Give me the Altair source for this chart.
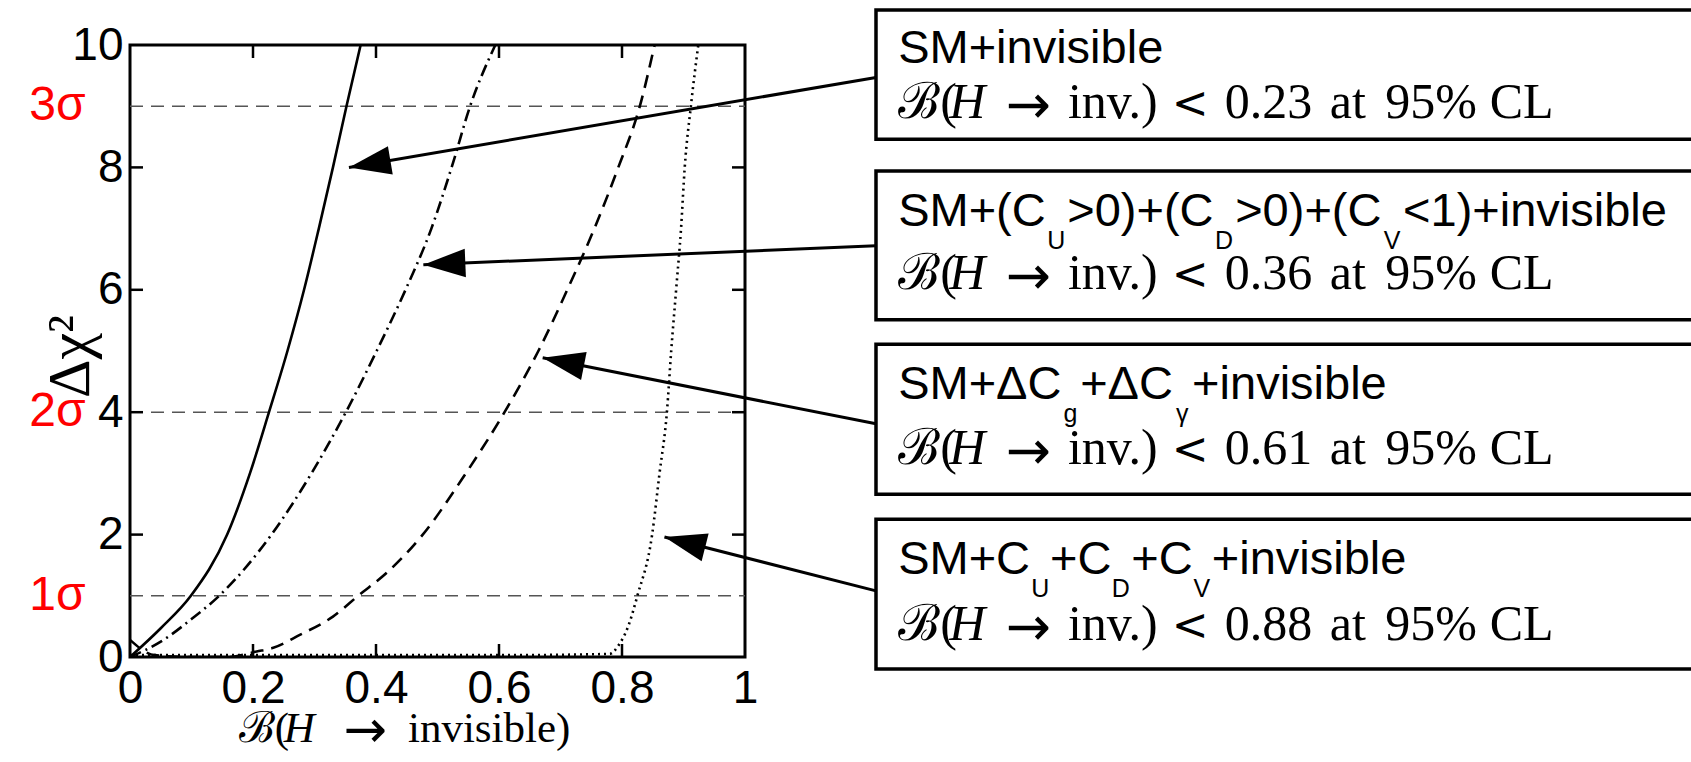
import math
import altair as alt
import pandas as pd

# ---------------- data ----------------
solid_x = [0.0, 0.05, 0.099, 0.158, 0.195, 0.226, 0.256, 0.283, 0.307, 0.330, 0.352, 0.375]
solid_y = [0.0, 0.47, 1.0, 2.0, 3.0, 4.0, 5.0, 6.0, 7.0, 8.0, 9.0, 10.0]

dashdot_x = [0.0, 0.05, 0.10, 0.145, 0.230, 0.295, 0.351, 0.401, 0.448, 0.490, 0.523, 0.553, 0.594]
dashdot_y = [0.0, 0.25, 0.62, 1.0, 2.0, 3.0, 4.0, 5.0, 6.0, 7.0, 8.0, 9.0, 10.0]

dashed_x = [0.0, 0.04, 0.10, 0.16, 0.206, 0.233, 0.276, 0.330, 0.371, 0.420, 0.476,
            0.546, 0.609, 0.664, 0.711, 0.755, 0.794, 0.829, 0.853]
dashed_y = [0.28, 0.03, 0.0, 0.0, 0.09, 0.15, 0.36, 0.66, 1.0, 1.4, 2.0,
            3.0, 4.0, 5.0, 6.0, 7.0, 8.0, 9.0, 10.0]

dotted_x = [0.0, 0.2, 0.4, 0.6, 0.78, 0.795, 0.81, 0.825, 0.849, 0.861, 0.873,
            0.880, 0.888, 0.896, 0.902, 0.912, 0.924]
dotted_y = [0.03, 0.03, 0.03, 0.03, 0.05, 0.2, 0.5, 1.0, 2.0, 3.0, 4.0,
            5.0, 6.0, 7.0, 8.0, 9.0, 10.0]

x_ticks = [0, 0.2, 0.4, 0.6, 0.8, 1]
y_ticks = [0, 2, 4, 6, 8, 10]
sigma_vals = [1, 4, 9]
sigma_labels = ["1σ", "2σ", "3σ"]

# x-axis title pieces (serif, H italic)
xt_text = ["ℬ(", "H", "→", "invisible)"]
xt_x = [0.177, 0.250, 0.347, 0.452]
xt_style = ["normal", "italic", "symbol", "normal"]
xt_y = -1.39

# annotation boxes (data units, drawn outside the plot area)
box_left = 1.213
box_right = 2.56
box_top = [10.57, 7.94, 5.11, 2.25]
box_bottom = [8.46, 5.51, 2.66, -0.196]

arrow_tip_x = [0.356, 0.477, 0.671, 0.869]
arrow_tip_y = [8.0, 6.41, 4.89, 1.96]
arrow_start_y = [9.47, 6.72, 3.81, 1.08]

line1_y = [9.71, 7.04, 4.22, 1.36]
line2_y = [8.80, 6.01, 3.15, 0.28]
limits = ["0.23", "0.36", "0.61", "0.88"]

seg_text = ["SM+invisible",
            "SM+(C", ">0)+(C", ">0)+(C", "<1)+invisible",
            "SM+ΔC", "+ΔC", "+invisible",
            "SM+C", "+C", "+C", "+invisible"]
seg_x = [1.249,
         1.249, 1.524, 1.797, 2.070,
         1.249, 1.545, 1.727,
         1.249, 1.496, 1.628, 1.759]
seg_box = [0, 1, 1, 1, 1, 2, 2, 2, 3, 3, 3, 3]

sub_text = ["U", "D", "V", "g", "γ", "U", "D", "V"]
sub_x = [1.506, 1.779, 2.052, 1.529, 1.711, 1.480, 1.611, 1.743]
sub_box = [1, 1, 1, 2, 2, 3, 3, 3]

# second line of each box: "ℬ(H → inv.) < X at 95% CL"
l2_parts = ["ℬ(", "H", "→", "inv.)", "<", None, "at", "95%", "CL"]
l2_x = [1.249, 1.332, 1.424, 1.525, 1.694, 1.780, 1.951, 2.041, 2.211]
l2_style = ["normal", "italic", "symbol", "normal", "lt", "normal", "normal", "normal", "normal"]

# ---------------- geometry helpers ----------------
W, H = 615, 612
PX_X = W / 1.0      # pixels per x unit
PX_Y = H / 10.0     # pixels per y unit
TICK_X = 13 / PX_X
TICK_Y = 13 / PX_Y
SUB_DROP = 23 / PX_Y
ARROW_DROP = 5 / PX_Y

SANS = "Liberation Sans"
SERIF = "Liberation Serif"
SYMFONT = "DejaVu Sans"
LTFONT = "DejaVu Sans"

xs = alt.Scale(domain=[0, 1], nice=False, zero=False)
ys = alt.Scale(domain=[0, 10], nice=False, zero=False)

x_axis = alt.Axis(values=x_ticks, format="~g", ticks=False, domain=False, grid=False,
                  labelFont=SANS, labelFontSize=46, labelColor="black", labelPadding=9,
                  labelFlush=False, title="")
y_axis = alt.Axis(values=y_ticks, format="~g", ticks=False, domain=False, grid=False,
                  labelFont=SANS, labelFontSize=46, labelColor="black", labelPadding=7,
                  labelFlush=False,
                  title="Δχ²", titleFont=SERIF, titleFontSize=60, titleFontWeight="normal",
                  titleColor="black", titleAngle=270, titleX=-60, titleY=311,
                  titleAlign="center", titleBaseline="middle")


def curve(xv, yv, dash):
    df = pd.DataFrame({"x": xv, "y": yv})
    m = alt.Chart(df).mark_line(color="black", strokeWidth=2.6, interpolate="monotone",
                                clip=True, **({"strokeDash": dash} if dash else {}))
    return m.encode(x=alt.X("x:Q", scale=xs, axis=x_axis), y=alt.Y("y:Q", scale=ys, axis=y_axis),
                    order="x:Q")


def text_layer(df, font, size, style="normal", align="left"):
    return alt.Chart(df).mark_text(font=font, fontSize=size, fontStyle=style, align=align,
                                   baseline="alphabetic", color="black", clip=False).encode(
        x=alt.X("x:Q", scale=xs), y=alt.Y("y:Q", scale=ys), text="t:N")


grid = alt.Chart(pd.DataFrame({"y": sigma_vals})).mark_rule(
    color="#555555", strokeWidth=1.4, strokeDash=[13, 8]).encode(
    x=alt.datum(0, scale=xs), x2=alt.datum(1), y=alt.Y("y:Q", scale=ys))

sig = alt.Chart(pd.DataFrame({"y": sigma_vals, "t": sigma_labels})).mark_text(
    color="#ff0000", font=SANS, fontSize=48, align="center", baseline="middle", clip=False
).encode(x=alt.datum(-0.118, scale=xs), y=alt.Y("y:Q", scale=ys), text="t:N")

# inward ticks on all four sides
inner_x = [v for v in x_ticks if 0 < v < 1]
inner_y = [v for v in y_ticks if 0 < v < 10]
tb = pd.DataFrame({"x": inner_x * 2,
                   "y": [0] * len(inner_x) + [10] * len(inner_x),
                   "y2": [TICK_Y] * len(inner_x) + [10 - TICK_Y] * len(inner_x)})
lr = pd.DataFrame({"y": inner_y * 2,
                   "x": [0] * len(inner_y) + [1] * len(inner_y),
                   "x2": [TICK_X] * len(inner_y) + [1 - TICK_X] * len(inner_y)})
ticks_tb = alt.Chart(tb).mark_rule(color="black", strokeWidth=2.5).encode(
    x=alt.X("x:Q", scale=xs), y=alt.Y("y:Q", scale=ys), y2="y2:Q")
ticks_lr = alt.Chart(lr).mark_rule(color="black", strokeWidth=2.5).encode(
    x=alt.X("x:Q", scale=xs), x2="x2:Q", y=alt.Y("y:Q", scale=ys))

# arrows
angles = []
for tx, ty, sy in zip(arrow_tip_x, arrow_tip_y, arrow_start_y):
    dx = (box_left - tx) * PX_X
    dy = -(sy - ty) * PX_Y
    angles.append(math.degrees(math.atan2(dy, dx)) % 360)
arr = pd.DataFrame({"tx": arrow_tip_x, "ty": arrow_tip_y,
                    "sx": [box_left] * 4, "sy": arrow_start_y, "ang": angles})
shafts = alt.Chart(arr).mark_rule(color="black", strokeWidth=3, clip=False).encode(
    x=alt.X("tx:Q", scale=xs), x2="sx:Q", y=alt.Y("ty:Q", scale=ys), y2="sy:Q")
heads = alt.Chart(arr).mark_point(
    shape="M0,0 L2,-0.68 L2,0.68 Z", filled=True, color="black", opacity=1,
    size=1764, clip=False, strokeWidth=0).encode(
    x=alt.X("tx:Q", scale=xs), y=alt.Y("ty:Q", scale=ys), angle=alt.Angle("ang:Q", scale=None))

boxes = alt.Chart(pd.DataFrame({"t": box_top, "b": box_bottom,
                                "l": [box_left] * 4, "r": [box_right] * 4})).mark_rect(
    fill="white", stroke="black", strokeWidth=3.5, clip=False).encode(
    x=alt.X("l:Q", scale=xs), x2="r:Q", y=alt.Y("t:Q", scale=ys), y2="b:Q")

seg_df = pd.DataFrame({"t": seg_text, "x": seg_x, "y": [line1_y[b] for b in seg_box]})
segs = text_layer(seg_df, SANS, 47)

sub_df = pd.DataFrame({"t": sub_text, "x": sub_x,
                       "y": [line1_y[b] - SUB_DROP for b in sub_box]})
subs = text_layer(sub_df, SANS, 25, align="center")

# line 2 pieces grouped by style
rows = {"normal": [], "italic": [], "symbol": [], "lt": []}
for b, val in enumerate(limits):
    for part, px, st in zip(l2_parts, l2_x, l2_style):
        yy = line2_y[b] - (ARROW_DROP if st == "symbol" else 0)
        rows[st].append({"t": part if part is not None else val, "x": px, "y": yy})
xrows = {"normal": [], "italic": [], "symbol": []}
for part, px, st in zip(xt_text, xt_x, xt_style):
    yy = xt_y - (ARROW_DROP if st == "symbol" else 0)
    xrows[st].append({"t": part, "x": px, "y": yy})

l2_normal = text_layer(pd.DataFrame(rows["normal"]), SERIF, 50)
l2_italic = text_layer(pd.DataFrame(rows["italic"]), SERIF, 50, "italic")
l2_arrow = text_layer(pd.DataFrame(rows["symbol"]), SYMFONT, 54)
l2_lt = text_layer(pd.DataFrame(rows["lt"]), LTFONT, 44)

xt_normal = text_layer(pd.DataFrame(xrows["normal"]), SERIF, 43)
xt_italic = text_layer(pd.DataFrame(xrows["italic"]), SERIF, 43, "italic")
xt_arrow = text_layer(pd.DataFrame(xrows["symbol"]), SYMFONT, 52)

chart = alt.layer(
    grid,
    curve(solid_x, solid_y, None),
    curve(dashdot_x, dashdot_y, [12, 5, 2, 5]),
    curve(dashed_x, dashed_y, [13, 8]),
    curve(dotted_x, dotted_y, [2, 4]),
    ticks_tb, ticks_lr, sig, shafts, heads, boxes, segs, subs,
    l2_normal, l2_italic, l2_arrow, l2_lt, xt_normal, xt_italic, xt_arrow,
).properties(
    width=W, height=H,
    autosize=alt.AutoSizeParams(type="none"),
    padding={"left": 130, "top": 45, "right": 1691 - 130 - W, "bottom": 762 - 45 - H},
    background="white",
).configure_view(stroke="black", strokeWidth=3)

chart.save("out.html", embed_options={"renderer": "svg", "actions": False})
